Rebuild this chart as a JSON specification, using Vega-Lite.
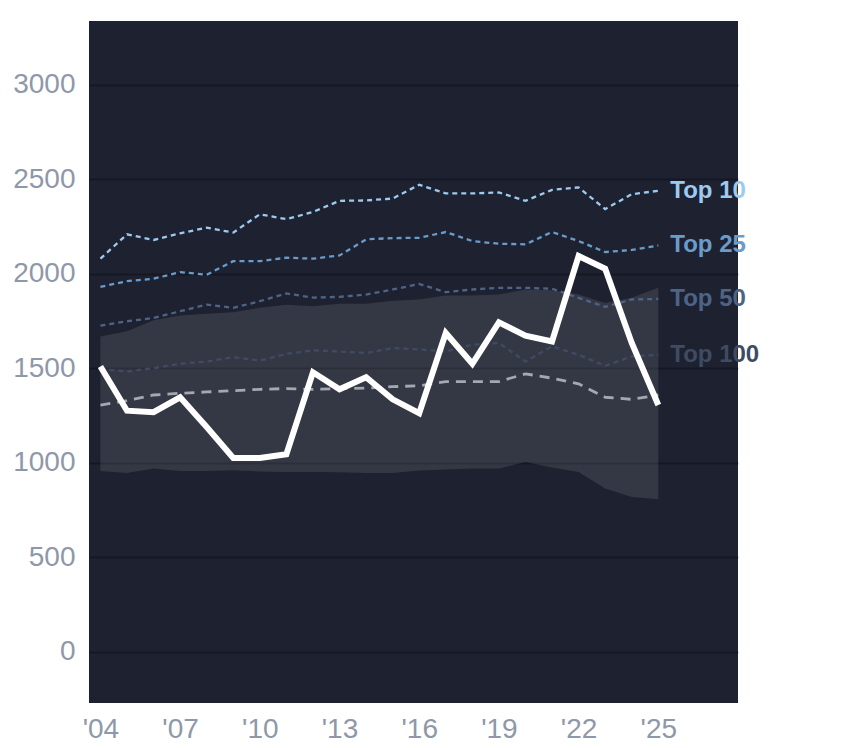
{
  "$schema": "https://vega.github.io/schema/vega-lite/v6.json",
  "width": 649,
  "height": 682,
  "autosize": "none",
  "padding": {"left": 89, "top": 21, "right": 106, "bottom": 45},
  "background": "#ffffff",
  "config": {
    "view": {"fill": "#1e2230", "stroke": null},
    "font": "Liberation Sans",
    "axis": {
      "domain": false,
      "ticks": false,
      "labelColor": "#8f98a8",
      "labelFontSize": 28,
      "labelFont": "Liberation Sans",
      "title": null
    }
  },
  "data": {
    "values": [
      {"year": 2004, "actual": 1510, "Top 10": 2080, "Top 25": 1931, "Top 50": 1726, "Top 100": 1496, "median": 1306, "low": 957, "high": 1669},
      {"year": 2005, "actual": 1276, "Top 10": 2209, "Top 25": 1961, "Top 50": 1749, "Top 100": 1483, "median": 1329, "low": 947, "high": 1696},
      {"year": 2006, "actual": 1268, "Top 10": 2179, "Top 25": 1974, "Top 50": 1766, "Top 100": 1501, "median": 1359, "low": 970, "high": 1754},
      {"year": 2007, "actual": 1347, "Top 10": 2214, "Top 25": 2009, "Top 50": 1802, "Top 100": 1524, "median": 1368, "low": 957, "high": 1779},
      {"year": 2008, "actual": 1190, "Top 10": 2244, "Top 25": 1995, "Top 50": 1837, "Top 100": 1536, "median": 1375, "low": 957, "high": 1789},
      {"year": 2009, "actual": 1026, "Top 10": 2218, "Top 25": 2067, "Top 50": 1820, "Top 100": 1559, "median": 1382, "low": 961, "high": 1797},
      {"year": 2010, "actual": 1026, "Top 10": 2315, "Top 25": 2067, "Top 50": 1855, "Top 100": 1541, "median": 1389, "low": 955, "high": 1820},
      {"year": 2011, "actual": 1046, "Top 10": 2289, "Top 25": 2085, "Top 50": 1896, "Top 100": 1577, "median": 1393, "low": 952, "high": 1836},
      {"year": 2012, "actual": 1479, "Top 10": 2327, "Top 25": 2080, "Top 50": 1874, "Top 100": 1595, "median": 1389, "low": 952, "high": 1828},
      {"year": 2013, "actual": 1389, "Top 10": 2386, "Top 25": 2097, "Top 50": 1878, "Top 100": 1589, "median": 1393, "low": 950, "high": 1842},
      {"year": 2014, "actual": 1453, "Top 10": 2388, "Top 25": 2182, "Top 50": 1890, "Top 100": 1581, "median": 1395, "low": 947, "high": 1842},
      {"year": 2015, "actual": 1336, "Top 10": 2398, "Top 25": 2189, "Top 50": 1917, "Top 100": 1607, "median": 1403, "low": 947, "high": 1857},
      {"year": 2016, "actual": 1263, "Top 10": 2471, "Top 25": 2190, "Top 50": 1946, "Top 100": 1600, "median": 1408, "low": 960, "high": 1864},
      {"year": 2017, "actual": 1687, "Top 10": 2425, "Top 25": 2221, "Top 50": 1903, "Top 100": 1589, "median": 1430, "low": 965, "high": 1885},
      {"year": 2018, "actual": 1524, "Top 10": 2425, "Top 25": 2173, "Top 50": 1917, "Top 100": 1625, "median": 1430, "low": 970, "high": 1885},
      {"year": 2019, "actual": 1743, "Top 10": 2430, "Top 25": 2159, "Top 50": 1926, "Top 100": 1634, "median": 1430, "low": 970, "high": 1890},
      {"year": 2020, "actual": 1673, "Top 10": 2386, "Top 25": 2156, "Top 50": 1926, "Top 100": 1536, "median": 1471, "low": 1005, "high": 1917},
      {"year": 2021, "actual": 1642, "Top 10": 2444, "Top 25": 2221, "Top 50": 1921, "Top 100": 1616, "median": 1448, "low": 975, "high": 1913},
      {"year": 2022, "actual": 2094, "Top 10": 2457, "Top 25": 2173, "Top 50": 1873, "Top 100": 1572, "median": 1418, "low": 952, "high": 1890},
      {"year": 2023, "actual": 2027, "Top 10": 2342, "Top 25": 2115, "Top 50": 1825, "Top 100": 1513, "median": 1347, "low": 864, "high": 1846},
      {"year": 2024, "actual": 1634, "Top 10": 2421, "Top 25": 2126, "Top 50": 1864, "Top 100": 1563, "median": 1336, "low": 819, "high": 1873},
      {"year": 2025, "actual": 1306, "Top 10": 2439, "Top 25": 2150, "Top 50": 1867, "Top 100": 1572, "median": 1359, "low": 807, "high": 1926}
    ]
  },
  "encoding": {
    "x": {
      "field": "year",
      "type": "quantitative",
      "scale": {"domain": [2003.57, 2028], "nice": false, "zero": false},
      "axis": {
        "values": [2004, 2007, 2010, 2013, 2016, 2019, 2022, 2025],
        "grid": false,
        "labelPadding": 12,
        "labelExpr": "\"'\" + substring(toString(datum.value), 2, 4)"
      }
    }
  },
  "layer": [
    {
      "mark": {"type": "area", "color": "#ffffff", "opacity": 0.1},
      "encoding": {
        "y": {
          "field": "high",
          "type": "quantitative",
          "scale": {"domain": [-270, 3337], "nice": false, "zero": false},
          "axis": {
            "values": [0, 500, 1000, 1500, 2000, 2500, 3000],
            "format": "d",
            "grid": true,
            "gridColor": "#000000",
            "gridOpacity": 0.28,
            "gridWidth": 2,
            "labelPadding": 14
          }
        },
        "y2": {"field": "low"}
      }
    },
    {
      "transform": [{"fold": ["Top 10", "Top 25", "Top 50", "Top 100"], "as": ["series", "value"]}],
      "layer": [
        {
          "mark": {"type": "line", "strokeWidth": 2.3, "strokeDash": [5, 4]},
          "encoding": {
            "y": {"field": "value", "type": "quantitative"},
            "color": {
              "field": "series",
              "type": "nominal",
              "legend": null,
              "scale": {
                "domain": ["Top 10", "Top 25", "Top 50", "Top 100"],
                "range": ["#9ccaf0", "#6a9ccb", "#4d6486", "#3f4b62"]
              }
            }
          }
        },
        {
          "transform": [{"filter": "datum.year == 2025"}],
          "mark": {"type": "text", "align": "left", "baseline": "middle", "dx": 12, "fontSize": 24, "fontWeight": "bold", "font": "Liberation Sans"},
          "encoding": {
            "y": {"field": "value", "type": "quantitative"},
            "text": {"field": "series"},
            "color": {
              "field": "series",
              "type": "nominal",
              "legend": null,
              "scale": {
                "domain": ["Top 10", "Top 25", "Top 50", "Top 100"],
                "range": ["#a3d0f5", "#6fa3d1", "#536b8e", "#414e66"]
              }
            }
          }
        }
      ]
    },
    {
      "mark": {"type": "line", "color": "#a3a8b1", "strokeWidth": 2.8, "strokeDash": [10, 7]},
      "encoding": {"y": {"field": "median", "type": "quantitative"}}
    },
    {
      "mark": {"type": "line", "color": "#ffffff", "strokeWidth": 6},
      "encoding": {"y": {"field": "actual", "type": "quantitative"}}
    }
  ]
}
